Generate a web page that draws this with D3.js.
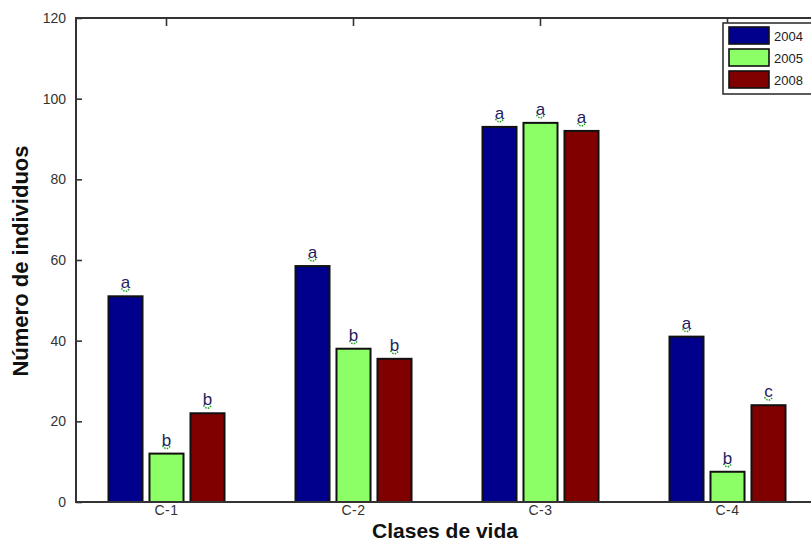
<!DOCTYPE html>
<html>
<head>
<meta charset="utf-8">
<script src="https://cdn.jsdelivr.net/npm/d3@7/dist/d3.min.js"></script>
<style>
  html, body { margin: 0; padding: 0; background: #fff; }
  svg { display: block; }
  text { font-family: Arial, "Liberation Sans", sans-serif; }
</style>
</head>
<body>
<svg id="chart" width="811" height="544"></svg>
<script>
// Life classes on the x axis
const categories = ["C-1", "C-2", "C-3", "C-4"];
// Survey years (one bar per year in each class)
const years = ["2004", "2005", "2008"];
// Number of individuals per class, one array per year
const values2004 = [51, 58.5, 93, 41];
const values2005 = [12, 38, 94, 7.5];
const values2008 = [22, 35.5, 92, 24];
// Significance letters above each bar
const letters2004 = ["a", "a", "a", "a"];
const letters2005 = ["b", "b", "a", "b"];
const letters2008 = ["b", "b", "a", "c"];
// Y axis ticks
const yTicks = [0, 20, 40, 60, 80, 100, 120];

const seriesValues = [values2004, values2005, values2008];
const seriesLetters = [letters2004, letters2005, letters2008];
const colors = ["#00008c", "#8cff66", "#800000"];

const svg = d3.select("#chart");
const plotLeft = 76, plotTop = 18, plotBottom = 502, plotRight = 820;

const y = d3.scaleLinear().domain([0, 120]).range([plotBottom, plotTop]);
const x0 = d3.scaleBand().domain(categories).range([73, 821]);
const x1 = d3.scaleBand().domain(years).range([-61.5, 61.5])
  .paddingInner(0.17).paddingOuter(0.085);

const rows = categories.map((c, i) => ({
  cat: c,
  bars: years.map((yr, j) => ({ year: yr, value: seriesValues[j][i], letter: seriesLetters[j][i], color: colors[j] }))
}));

// Bars
const groups = svg.append("g").selectAll("g").data(rows).join("g")
  .attr("transform", d => `translate(${x0(d.cat) + x0.bandwidth() / 2},0)`);

groups.selectAll("rect").data(d => d.bars).join("rect")
  .attr("x", d => x1(d.year))
  .attr("y", d => y(d.value))
  .attr("width", x1.bandwidth())
  .attr("height", d => y(0) - y(d.value))
  .attr("fill", d => d.color)
  .attr("stroke", "#111")
  .attr("stroke-width", 2);

// Small green markers just under the letters
groups.selectAll("path.mk").data(d => d.bars).join("path")
  .attr("class", "mk")
  .attr("d", d => {
    const cx = x1(d.year) + x1.bandwidth() / 2, yy = y(d.value) - 5;
    return `M${cx - 4},${yy - 3} Q${cx},${yy + 3} ${cx + 4},${yy - 3}`;
  })
  .attr("fill", "none")
  .attr("stroke", "#22a022")
  .attr("stroke-width", 1.5)
  .attr("stroke-dasharray", "1.5,1.2");

// Significance letters
groups.selectAll("text.lt").data(d => d.bars).join("text")
  .attr("class", "lt")
  .attr("x", d => x1(d.year) + x1.bandwidth() / 2)
  .attr("y", d => y(d.value) - 8)
  .attr("text-anchor", "middle")
  .attr("font-size", 17)
  .attr("fill", "#1e1e5e")
  .text(d => d.letter);

// Frame
const frame = svg.append("g").attr("stroke", "#333").attr("stroke-width", 2).attr("fill", "none");
frame.append("line").attr("x1", plotLeft).attr("x2", plotRight).attr("y1", plotTop).attr("y2", plotTop);
frame.append("line").attr("x1", plotLeft).attr("x2", plotRight).attr("y1", plotBottom).attr("y2", plotBottom);
frame.append("line").attr("x1", plotLeft).attr("x2", plotLeft).attr("y1", plotTop - 1).attr("y2", plotBottom + 1);

// Left axis (inward ticks)
const yAxis = svg.append("g").attr("transform", `translate(${plotLeft},0)`)
  .call(d3.axisRight(y).tickValues(yTicks).tickSize(6).tickFormat(""));
yAxis.select(".domain").remove();
yAxis.selectAll("line").attr("stroke", "#333").attr("stroke-width", 1.6);

svg.append("g").selectAll("text").data(yTicks).join("text")
  .attr("x", plotLeft - 10)
  .attr("y", d => y(d) + 5)
  .attr("text-anchor", "end")
  .attr("font-size", 14)
  .attr("fill", "#333")
  .text(d => d);

// Top axis (inward ticks at class centres)
const topAxis = svg.append("g").attr("transform", `translate(0,${plotTop})`)
  .call(d3.axisBottom(x0).tickSize(8).tickFormat(""));
topAxis.select(".domain").remove();
topAxis.selectAll("line").attr("stroke", "#333").attr("stroke-width", 1.6);

// Class labels
svg.append("g").selectAll("text").data(categories).join("text")
  .attr("x", d => x0(d) + x0.bandwidth() / 2)
  .attr("y", 515)
  .attr("text-anchor", "middle")
  .attr("font-size", 14)
  .attr("letter-spacing", 0.5)
  .attr("fill", "#333")
  .text(d => d);

// Axis titles
svg.append("text")
  .attr("x", 445).attr("y", 538)
  .attr("text-anchor", "middle")
  .attr("font-size", 21).attr("font-weight", "bold")
  .attr("fill", "#111")
  .text("Clases de vida");

svg.append("text")
  .attr("transform", "translate(28,261) rotate(-90)")
  .attr("text-anchor", "middle")
  .attr("font-size", 22).attr("font-weight", "bold")
  .attr("fill", "#111")
  .text("Número de individuos");

// Legend
const lg = svg.append("g").attr("transform", "translate(723,23)");
lg.append("rect").attr("x", 0).attr("y", 0).attr("width", 110).attr("height", 71)
  .attr("fill", "#fff").attr("stroke", "#333").attr("stroke-width", 1.6);
const items = lg.selectAll("g").data(years).join("g")
  .attr("transform", (d, i) => `translate(6,${4 + i * 22})`);
items.append("rect").attr("width", 40).attr("height", 17)
  .attr("fill", (d, i) => colors[i]).attr("stroke", "#111").attr("stroke-width", 1.6);
items.append("text").attr("x", 45).attr("y", 13.5)
  .attr("font-size", 13).attr("fill", "#222").text(d => d);
</script>
</body>
</html>
